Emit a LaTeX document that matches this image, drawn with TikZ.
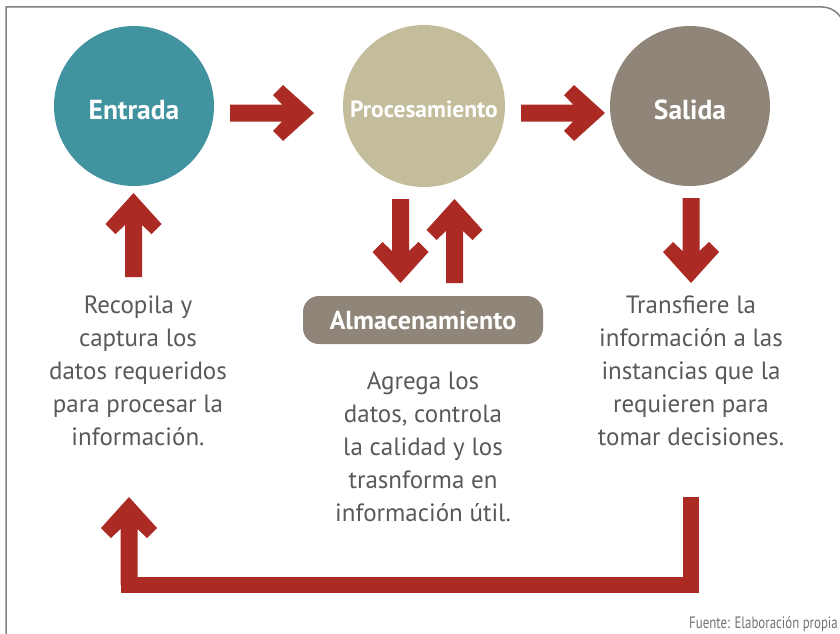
\documentclass[tikz,border=0pt]{standalone}
\usepackage{fontspec}
\setmainfont{PT Sans}
\newfontfamily\condfont[FakeStretch=0.78]{PT Sans}
\usetikzlibrary{calc}
\definecolor{tealc}{HTML}{4293A0}
\definecolor{procc}{HTML}{C3BD9B}
\definecolor{greyc}{HTML}{8F8679}
\definecolor{redc}{HTML}{AC2A24}
\definecolor{txtc}{HTML}{58595B}
\definecolor{framec}{HTML}{808080}
\newcommand\fatarrow[2]{%
  \path (#1); \pgfgetlastxy\fax\fay
  \path (#2); \pgfgetlastxy\fbx\fby
  \pgfmathsetmacro\fang{atan2(\fby-\fay,\fbx-\fax)}
  \pgfmathsetmacro\flen{veclen(\fbx-\fax,\fby-\fay)}
  \fill[redc, shift={(\fax,\fay)}, rotate=\fang]
    (0,-8.5) -- ({\flen-32},-8.5) -- ({\flen-41},-18) -- ({\flen-31},-28) -- (\flen,0)
    -- ({\flen-31},28) -- ({\flen-41},18) -- ({\flen-32},8.5) -- (0,8.5) -- cycle;}
\tikzset{
  bubble/.style={circle, inner sep=0pt, minimum size=#1},
  bubtext/.style={text=white, yshift=-4pt, inner sep=0pt, font=\bfseries\fontsize{27.5}{32}\selectfont},
  desc/.style={anchor=north, align=center, inner sep=0pt, text=txtc, font=\fontsize{25}{33}\selectfont},
  loopline/.style={draw=redc, line width=16pt, line join=miter}
}
\begin{document}
\begin{tikzpicture}[x=1pt, y=-1pt]
\useasboundingbox (0,0) rectangle (840,634);
% frame
\draw[framec, line width=1.5pt] (6,640) -- (6,7) -- (822,7) arc[start angle=90, end angle=0, radius=22pt] -- (844,640);
% circles
\node[bubble=160pt, fill=tealc, label={[bubtext]center:Entrada}] (entrada) at (134,106) {};
\node[bubble=162pt, fill=procc, label={[bubtext, yshift=1pt, font=\bfseries\fontsize{23.5}{28}\selectfont]center:Procesamiento}] (proc) at (424,106) {};
\node[bubble=160pt, fill=greyc, label={[bubtext]center:Salida}] (salida) at (690,106) {};
% storage box
\node[fill=greyc, rounded corners=16pt, minimum width=240pt, minimum height=48pt, text=white,
      font=\bfseries\fontsize{26}{30}\selectfont] (alm) at (423,320) {Almacenamiento};
% descriptions
\node[desc] (tin) at (138,296) {Recopila y\\captura los\\datos requeridos\\para procesar la\\información.};
\node[desc] (tproc) at (423,372) {Agrega los\\datos, controla\\la calidad y los\\trasnforma en\\información útil.};
\node[desc] (tout) at (691,296) {Transfiere la\\información a las\\instancias que la\\requieren para\\tomar decisiones.};
\node[anchor=base east, inner sep=0pt, text=txtc!85, font=\condfont\fontsize{16.5}{19}\selectfont] (src) at (838,628) {Fuente: Elaboración propia};
% arrow coordinates
\coordinate (a1s) at (230,113); \coordinate (a1e) at (314,113);
\coordinate (a2s) at (521,113); \coordinate (a2e) at (605,113);
\coordinate (a3s) at (133.5,277); \coordinate (a3e) at (133.5,193);
\coordinate (a4s) at (691,198); \coordinate (a4e) at (691,283);
\coordinate (a5s) at (400.5,199); \coordinate (a5e) at (400.5,283);
\coordinate (a6s) at (454.5,283); \coordinate (a6e) at (454.5,199);
\coordinate (lps) at (691,497); \coordinate (lpc) at (129,585); \coordinate (lpt) at (129,497);
\fatarrow{a1s}{a1e}
\fatarrow{a2s}{a2e}
\fatarrow{a3s}{a3e}
\fatarrow{a4s}{a4e}
\fatarrow{a5s}{a5e}
\fatarrow{a6s}{a6e}
\draw[loopline] (lps) |- (lpc) -- ($(lpc)!0.4!(lpt)$);
\fatarrow{lpc}{lpt}
\end{tikzpicture}
\end{document}
